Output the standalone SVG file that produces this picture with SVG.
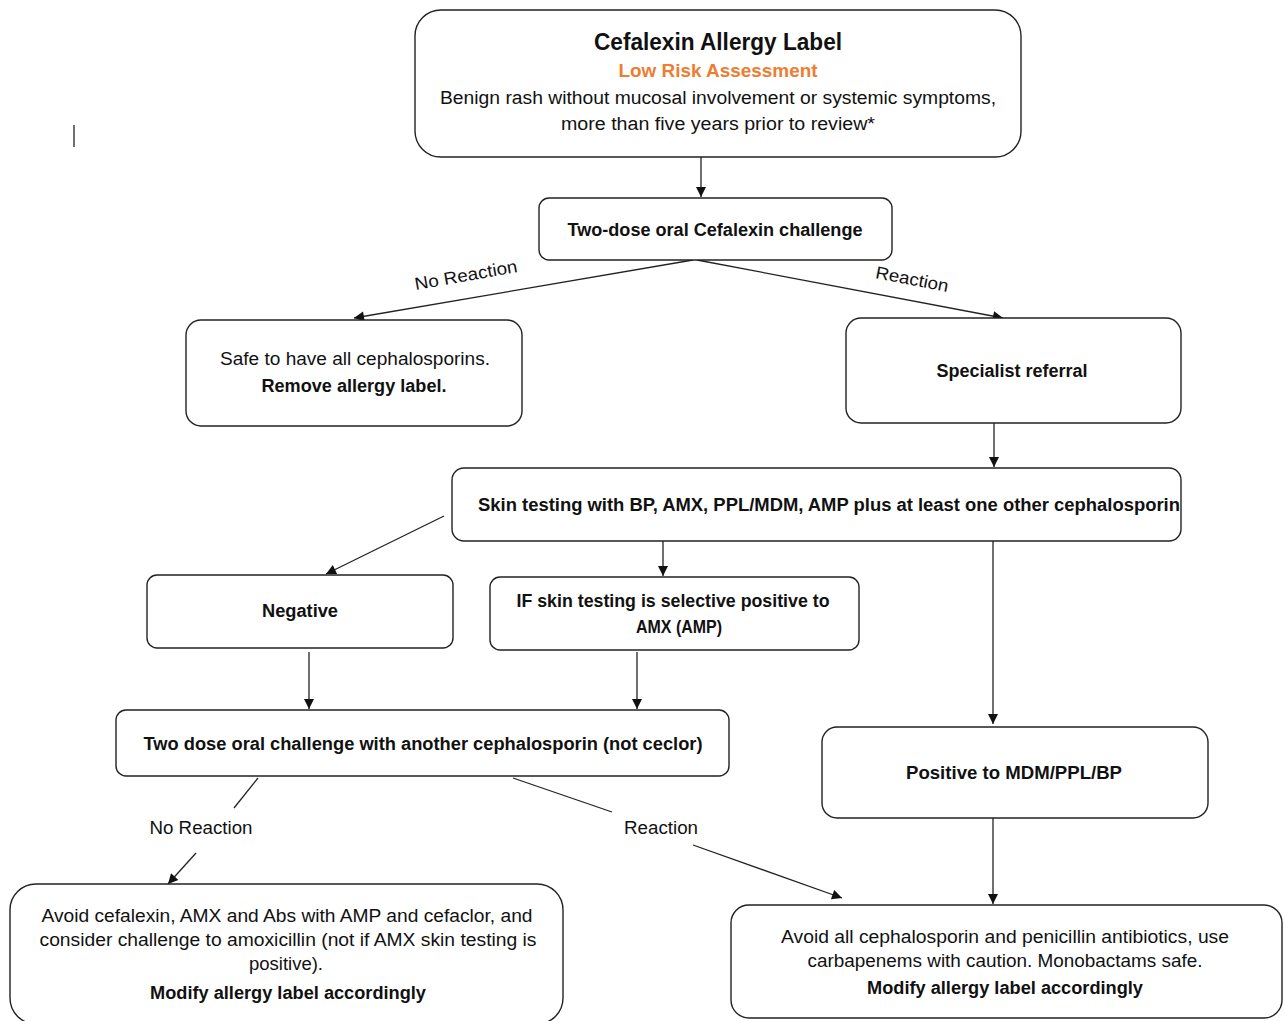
<svg xmlns="http://www.w3.org/2000/svg" width="1285" height="1021" viewBox="0 0 1285 1021">
<style>
.box{fill:#fff;stroke:#222;stroke-width:1.4}
.t{font-family:"Liberation Sans",Arial,sans-serif;font-size:17.5px;fill:#111;text-anchor:middle}
.b{font-weight:bold}
.ln{stroke:#222;stroke-width:1.3;fill:none}
</style>
<defs>
<marker id="ah" viewBox="0 0 10 10" refX="10" refY="5" markerWidth="11" markerHeight="10" markerUnits="userSpaceOnUse" orient="auto">
<path d="M0,0 L10,5 L0,10 z" fill="#111"/>
</marker>
</defs>
<rect width="1285" height="1021" fill="#fff"/>
<line x1="74" y1="125" x2="74" y2="147" stroke="#222" stroke-width="1.3"/>

<g id="connectors">
<line class="ln" x1="701" y1="157" x2="701" y2="197" marker-end="url(#ah)"/>
<line class="ln" x1="693" y1="260" x2="354" y2="318" marker-end="url(#ah)"/>
<line class="ln" x1="697" y1="260" x2="1003" y2="318" marker-end="url(#ah)"/>
<text class="t" transform="translate(467,281) rotate(-10)" textLength="104" lengthAdjust="spacingAndGlyphs">No Reaction</text>
<text class="t" transform="translate(911,285) rotate(11)" textLength="74" lengthAdjust="spacingAndGlyphs">Reaction</text>
<line class="ln" x1="994" y1="423" x2="994" y2="467" marker-end="url(#ah)"/>
<line class="ln" x1="444" y1="516" x2="326" y2="574" marker-end="url(#ah)"/>
<line class="ln" x1="663" y1="541" x2="663" y2="576" marker-end="url(#ah)"/>
<line class="ln" x1="993" y1="541" x2="993" y2="724" marker-end="url(#ah)"/>
<line class="ln" x1="309" y1="652" x2="309" y2="709" marker-end="url(#ah)"/>
<line class="ln" x1="637" y1="652" x2="637" y2="709" marker-end="url(#ah)"/>
<line class="ln" x1="993" y1="818" x2="993" y2="904" marker-end="url(#ah)"/>
<line class="ln" x1="258" y1="778" x2="234" y2="808"/>
<text class="t" x="201" y="834" textLength="103" lengthAdjust="spacingAndGlyphs">No Reaction</text>
<line class="ln" x1="196" y1="853" x2="168" y2="884" marker-end="url(#ah)"/>
<line class="ln" x1="513" y1="778" x2="612" y2="812"/>
<text class="t" x="661" y="834" textLength="74" lengthAdjust="spacingAndGlyphs">Reaction</text>
<line class="ln" x1="693" y1="845" x2="842" y2="898" marker-end="url(#ah)"/>
</g>

<g id="n-top">
<rect class="box" x="415" y="10" width="606" height="147" rx="26"/>
<text class="t b" x="718" y="50" style="font-size:23px" textLength="248" lengthAdjust="spacingAndGlyphs">Cefalexin Allergy Label</text>
<text class="t b" x="718" y="77" style="fill:#ED7D31;font-size:18px" textLength="199" lengthAdjust="spacingAndGlyphs">Low Risk Assessment</text>
<text class="t" x="718" y="104" style="font-size:18px" textLength="556" lengthAdjust="spacingAndGlyphs">Benign rash without mucosal involvement or systemic symptoms,</text>
<text class="t" x="718" y="130" style="font-size:18px" textLength="314" lengthAdjust="spacingAndGlyphs">more than five years prior to review*</text>
</g>

<g id="n-challenge1">
<rect class="box" x="539" y="198" width="353" height="62" rx="10"/>
<text class="t b" x="715" y="236" textLength="295" lengthAdjust="spacingAndGlyphs">Two-dose oral Cefalexin challenge</text>
</g>

<g id="n-safe">
<rect class="box" x="186" y="320" width="336" height="106" rx="15"/>
<text class="t" x="355" y="365" textLength="270" lengthAdjust="spacingAndGlyphs">Safe to have all cephalosporins.</text>
<text class="t b" x="354" y="392" textLength="185" lengthAdjust="spacingAndGlyphs">Remove allergy label.</text>
</g>

<g id="n-specialist">
<rect class="box" x="846" y="318" width="335" height="105" rx="15"/>
<text class="t b" x="1012" y="377" textLength="151" lengthAdjust="spacingAndGlyphs">Specialist referral</text>
</g>

<g id="n-skin">
<rect class="box" x="452" y="468" width="729" height="73" rx="12"/>
<text class="t b" x="829" y="511" textLength="702" lengthAdjust="spacingAndGlyphs">Skin testing with BP, AMX, PPL/MDM, AMP plus at least one other cephalosporin</text>
</g>

<g id="n-negative">
<rect class="box" x="147" y="575" width="306" height="73" rx="10"/>
<text class="t b" x="300" y="617" textLength="76" lengthAdjust="spacingAndGlyphs">Negative</text>
</g>

<g id="n-if">
<rect class="box" x="490" y="577" width="369" height="73" rx="10"/>
<text class="t b" x="673" y="607" textLength="313" lengthAdjust="spacingAndGlyphs">IF skin testing is selective positive to</text>
<text class="t b" x="679" y="633" textLength="86" lengthAdjust="spacingAndGlyphs">AMX (AMP)</text>
</g>

<g id="n-challenge2">
<rect class="box" x="116" y="710" width="613" height="66" rx="10"/>
<text class="t b" x="423" y="750" textLength="559" lengthAdjust="spacingAndGlyphs">Two dose oral challenge with another cephalosporin (not ceclor)</text>
</g>

<g id="n-positive">
<rect class="box" x="822" y="727" width="386" height="91" rx="15"/>
<text class="t b" x="1014" y="779" textLength="216" lengthAdjust="spacingAndGlyphs">Positive to MDM/PPL/BP</text>
</g>

<g id="n-avoid-cef">
<rect class="box" x="10" y="884" width="553" height="140" rx="26"/>
<text class="t" x="287" y="922" textLength="491" lengthAdjust="spacingAndGlyphs">Avoid cefalexin, AMX and Abs with AMP and cefaclor, and</text>
<text class="t" x="288" y="946" textLength="497" lengthAdjust="spacingAndGlyphs">consider challenge to amoxicillin (not if AMX skin testing is</text>
<text class="t" x="286" y="970" textLength="74" lengthAdjust="spacingAndGlyphs">positive).</text>
<text class="t b" x="288" y="999" textLength="276" lengthAdjust="spacingAndGlyphs">Modify allergy label accordingly</text>
</g>

<g id="n-avoid-all">
<rect class="box" x="731" y="905" width="551" height="113" rx="18"/>
<text class="t" x="1005" y="943" textLength="448" lengthAdjust="spacingAndGlyphs">Avoid all cephalosporin and penicillin antibiotics, use</text>
<text class="t" x="1005" y="967" textLength="395" lengthAdjust="spacingAndGlyphs">carbapenems with caution. Monobactams safe.</text>
<text class="t b" x="1005" y="994" textLength="276" lengthAdjust="spacingAndGlyphs">Modify allergy label accordingly</text>
</g>
</svg>
